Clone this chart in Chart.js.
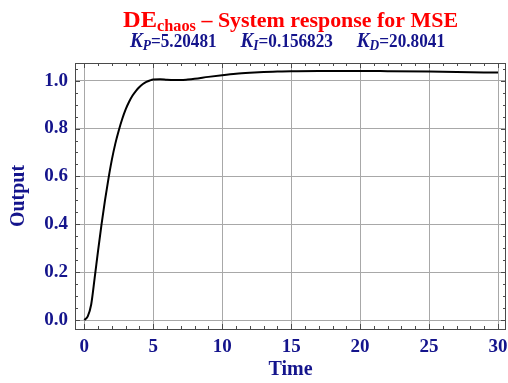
<!DOCTYPE html>
<html>
<head>
<meta charset="utf-8">
<script src="https://cdn.jsdelivr.net/npm/chart.js@4/dist/chart.umd.min.js"></script>
<style>
  html, body { margin: 0; padding: 0; background: #fff; }
  #wrap { width: 508px; height: 383px; }
</style>
</head>
<body>
<div id="wrap"><canvas id="chart"></canvas></div>
<script>
// step response
var timeValues = [0, 0.25, 0.5, 0.75, 1.0, 1.25, 1.5, 1.75, 2.0, 2.25, 2.5, 2.75, 3.0, 3.25, 3.5, 3.75, 4.0, 4.25, 4.5, 4.75,
	5.0, 5.5, 6.0, 6.5, 7.0, 7.5, 8.0, 9.0, 10, 11, 12, 13, 14, 15, 17, 20, 22, 25, 27, 30];
var outputValues = [0, 0.015, 0.065, 0.175, 0.29, 0.40, 0.50, 0.59, 0.67, 0.737, 0.792, 0.84, 0.88, 0.912, 0.938, 0.958, 0.974, 0.986, 0.995, 1.001,
	1.005, 1.006, 1.004, 1.003, 1.003, 1.005, 1.008, 1.016, 1.023, 1.029, 1.033, 1.036, 1.038, 1.040, 1.041, 1.041, 1.040, 1.038, 1.036, 1.034];

var xTicks = [0, 5, 10, 15, 20, 25, 30];
var yTicks = [0, 0.2, 0.4, 0.6, 0.8, 1.0];
var xMinor = [];
for (let i = 0; i <= 30; i++) xMinor.push(i);
var yMinor = [];
for (let i = 0; i <= 21; i++) yMinor.push(i * 0.05);

var gainP = '5.20481';
var gainI = '0.156823';
var gainD = '20.8041';

const blue = '#14148c';
const serif = '"Liberation Serif", "DejaVu Serif", serif';

// draws a row of text pieces centred on cx, stretched to the given width
function drawRich(ctx, parts, cx, baseline, width) {
	var total = 0;
	parts.forEach(function (p) {
		if (p.gap) { p.w = p.gap; total += p.w; return; }
		ctx.font = p.font;
		p.w = ctx.measureText(p.text).width;
		total += p.w;
	});
	var sx = width ? width / total : 1;
	ctx.save();
	ctx.translate(cx, 0);
	ctx.scale(sx, 1);
	var x = -total / 2;
	parts.forEach(function (p) {
		if (!p.gap) {
			ctx.font = p.font;
			ctx.fillText(p.text, x, baseline + (p.dy || 0));
		}
		x += p.w;
	});
	ctx.restore();
}

const framePlugin = {
	id: 'frame',
	afterDraw(chart) {
		const ctx = chart.ctx;
		const a = chart.chartArea;
		const xs = chart.scales.x, ys = chart.scales.y;
		ctx.save();
		ctx.strokeStyle = '#4a4a4a';
		ctx.lineWidth = 1;
		ctx.beginPath();
		xMinor.forEach(function (v) {
			var px = Math.round(xs.getPixelForValue(v)) + 0.5;
			var len = v % 5 === 0 ? 5 : 3;
			ctx.moveTo(px, a.bottom); ctx.lineTo(px, a.bottom - len);
			ctx.moveTo(px, a.top); ctx.lineTo(px, a.top + len);
		});
		yMinor.forEach(function (v, i) {
			var py = Math.round(ys.getPixelForValue(v)) + 0.5;
			var len = i % 4 === 0 ? 5 : 3;
			ctx.moveTo(a.left, py); ctx.lineTo(a.left + len, py);
			ctx.moveTo(a.right, py); ctx.lineTo(a.right - len, py);
		});
		ctx.stroke();
		ctx.strokeRect(Math.round(a.left) + 0.5, Math.round(a.top) + 0.5,
			Math.round(a.right - a.left) - 1, Math.round(a.bottom - a.top));

		// title lines
		ctx.textAlign = 'left';
		ctx.textBaseline = 'alphabetic';
		ctx.fillStyle = '#ff0000';
		drawRich(ctx, [
			{ text: 'DE', font: 'bold 24px ' + serif },
			{ text: 'chaos', font: 'bold 16px ' + serif, dy: 4 },
			{ text: ' \u2013 System response for MSE', font: 'bold 21.5px ' + serif }
		], 290.5, 26.5, 335);
		ctx.fillStyle = blue;
		var kf = 'italic bold 20px ' + serif, sf = 'italic bold 14px ' + serif, nf = 'bold 18px ' + serif;
		drawRich(ctx, [
			{ text: 'K', font: kf }, { text: 'P', font: sf, dy: 3 }, { text: '=' + gainP, font: nf }, { gap: 25 },
			{ text: 'K', font: kf }, { text: 'I', font: sf, dy: 3 }, { text: '=' + gainI, font: nf }, { gap: 25 },
			{ text: 'K', font: kf }, { text: 'D', font: sf, dy: 3 }, { text: '=' + gainD, font: nf }
		], 287.5, 46.5, 315);
		ctx.restore();
	}
};

const chart = new Chart(document.getElementById('chart'), {
	type: 'line',
	data: {
		datasets: [{
			data: timeValues.map((t, i) => ({ x: t, y: outputValues[i] })),
			borderColor: '#000',
			borderWidth: 2,
			pointRadius: 0,
			fill: false,
			cubicInterpolationMode: 'monotone'
		}]
	},
	options: {
		responsive: true,
		maintainAspectRatio: false,
		animation: false,
		layout: { padding: { top: 63, right: 2, left: 0, bottom: 0 } },
		plugins: { legend: { display: false }, tooltip: { enabled: false } },
		scales: {
			x: {
				type: 'linear',
				min: -0.674,
				max: 30.58,
				afterBuildTicks: s => { s.ticks = xTicks.map(v => ({ value: v })); },
				afterFit: s => { s.height = 54; s.paddingLeft = 0; s.paddingRight = 0; },
				grid: { color: '#a8a8a8', lineWidth: 1, drawTicks: false },
				border: { display: false },
				ticks: {
					padding: 7,
					color: blue,
					font: { family: serif, size: 19, weight: 'bold' },
					maxRotation: 0,
					callback: v => String(v)
				},
				title: {
					display: true,
					text: 'Time',
					color: blue,
					font: { family: serif, size: 20, weight: 'bold' },
					padding: { top: 0, bottom: 1 }
				}
			},
			y: {
				min: -0.0376,
				max: 1.074,
				afterBuildTicks: s => { s.ticks = yTicks.map(v => ({ value: v })); },
				afterFit: s => { s.width = 75; s.paddingTop = 0; s.paddingBottom = 0; },
				grid: { color: '#a8a8a8', lineWidth: 1, drawTicks: false },
				border: { display: false },
				ticks: {
					padding: 7,
					color: blue,
					font: { family: serif, size: 19, weight: 'bold' },
					callback: v => v.toFixed(1)
				},
				title: {
					display: true,
					text: 'Output',
					color: blue,
					font: { family: serif, size: 20, weight: 'bold' },
					padding: { top: 7, bottom: 0 }
				}
			}
		}
	},
	plugins: [framePlugin]
});
</script>
</body>
</html>
